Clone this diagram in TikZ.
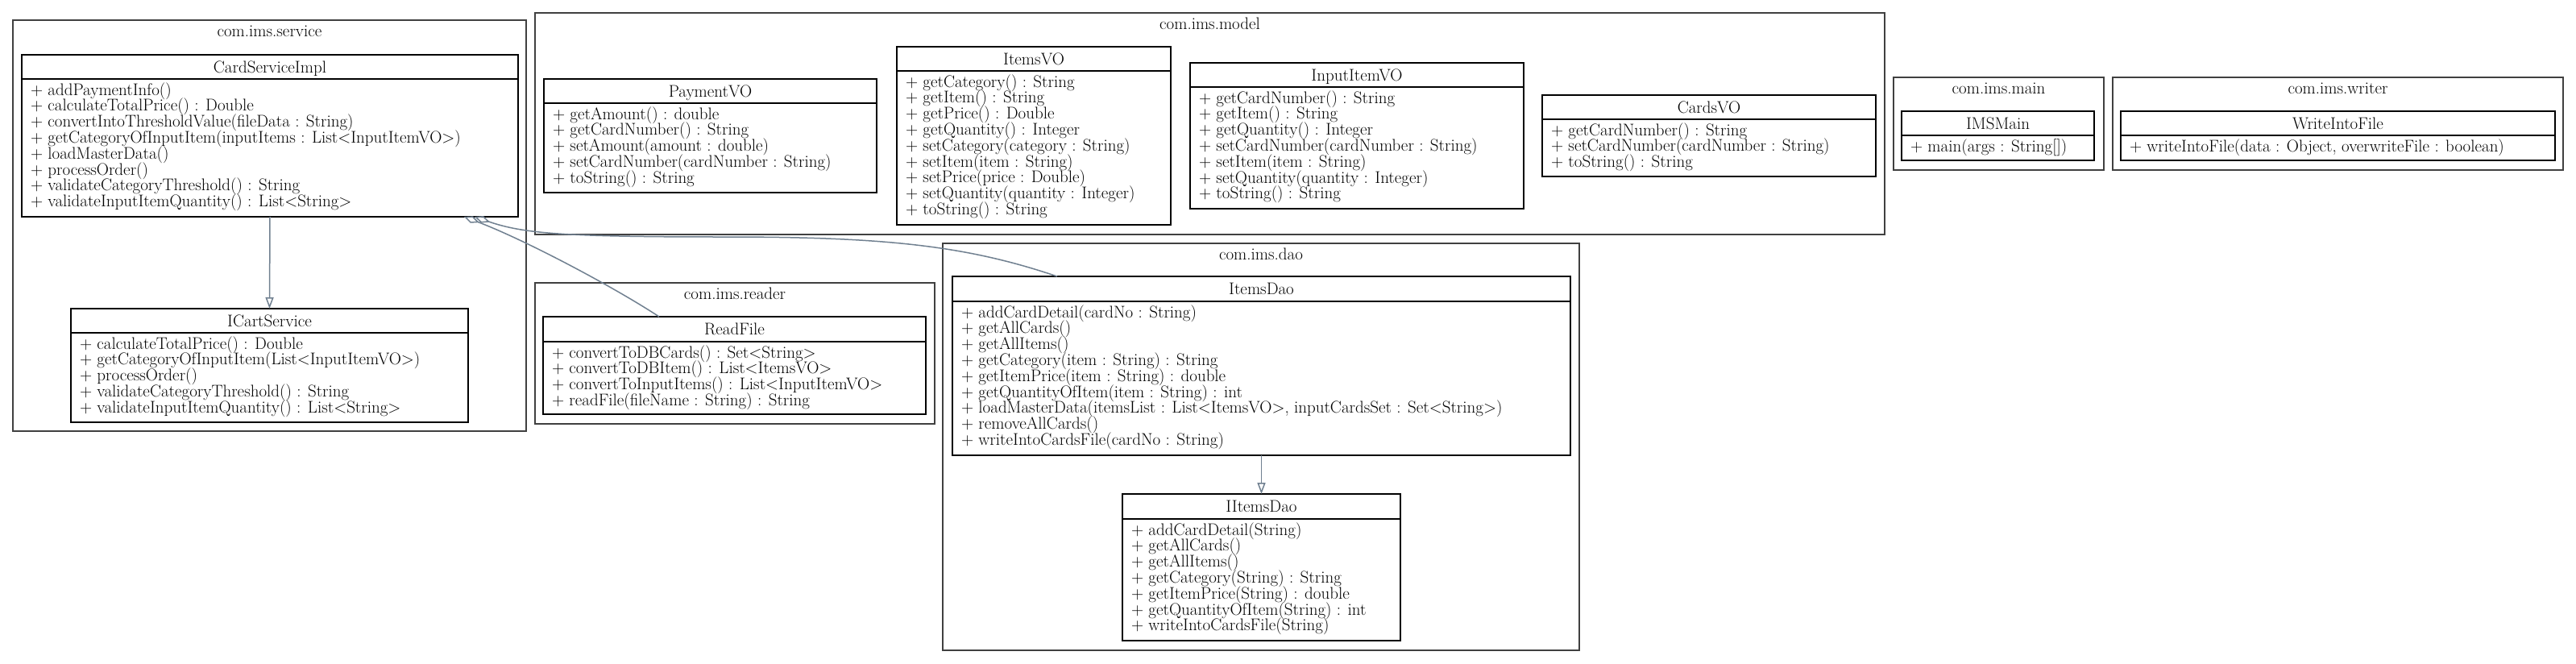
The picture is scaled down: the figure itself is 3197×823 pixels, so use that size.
\documentclass[tikz,border=0pt]{standalone}
\usetikzlibrary{arrows.meta}
\definecolor{edgec}{HTML}{708090}
\definecolor{pkgc}{HTML}{404040}
\newcommand\umlfont{\fontsize{21}{19.8}\selectfont}
\tikzset{
 pkgbox/.style={draw=pkgc, line width=2.3pt, inner sep=0pt, outer sep=0pt},
 classbox/.style={draw=black, line width=1.7pt, inner sep=0pt, outer sep=0pt, fill=white},
 sepline/.style={draw=black, line width=1.7pt},
 txt/.style={inner sep=0pt, outer sep=0pt, font=\umlfont},
 gen/.style={draw=edgec, line width=1.5pt, -{Triangle[open, length=14pt, width=10pt]}},
 aggr/.style={draw=edgec, line width=1.5pt, {Diamond[open, length=20pt, width=9pt]}-},
}
\newcommand\ml[1]{\hbox{#1}}
\newcommand\umlclass[8]{%
 \node[classbox, minimum width={(#4-#2)*1pt}, minimum height={(#5-#3)*1pt}] (#1) at ({(#2+#4)/2},{(#3+#5)/2}) {};
 \draw[sepline] (#2,#6) -- (#4,#6);
 \node[txt, anchor=base] (#1-title) at ({(#2+#4)/2},{(#3+#6)/2+7}) {#7};
 \node[txt, anchor=base west] (#1-body) at ({#2+11},{#6+20}) {\vtop{\baselineskip=19.8pt\lineskiplimit=-20pt\lineskip=0pt #8}};
}
\newcommand\umlpkg[6]{%
 \node[pkgbox, minimum width={(#4-#2)*1pt}, minimum height={(#5-#3)*1pt}] (#1) at ({(#2+#4)/2},{(#3+#5)/2}) {};
 \node[txt, anchor=base] (#1-title) at ({(#2+#4)/2},{#3+20}) {#6};
}
\begin{document}
\begin{tikzpicture}[x=1pt,y=-1pt]
\useasboundingbox[fill=white] (0,0) rectangle (3197,823);
% packages
\umlpkg{pservice}{16}{25}{653}{535}{com.ims.service}
\umlpkg{pmodel}{664}{16}{2339}{291}{com.ims.model}
\umlpkg{pmain}{2350}{96}{2611}{211}{com.ims.main}
\umlpkg{pwriter}{2622}{96}{3181}{211}{com.ims.writer}
\umlpkg{preader}{664}{351}{1160}{526}{com.ims.reader}
\umlpkg{pdao}{1170}{302}{1960}{807}{com.ims.dao}
% classes
\umlclass{csi}{27}{68}{643}{269}{98}{CardServiceImpl}{\ml{+ addPaymentInfo()}\ml{+ calculateTotalPrice() : Double}\ml{+ convertIntoThresholdValue(fileData : String)}\ml{+ getCategoryOfInputItem(inputItems : List<InputItemVO>)}\ml{+ loadMasterData()}\ml{+ processOrder()}\ml{+ validateCategoryThreshold() : String}\ml{+ validateInputItemQuantity() : List<String>}}
\umlclass{ics}{88}{383}{581}{524}{413}{ICartService}{\ml{+ calculateTotalPrice() : Double}\ml{+ getCategoryOfInputItem(List<InputItemVO>)}\ml{+ processOrder()}\ml{+ validateCategoryThreshold() : String}\ml{+ validateInputItemQuantity() : List<String>}}
\umlclass{pvo}{675}{98}{1088}{239}{128}{PaymentVO}{\ml{+ getAmount() : double}\ml{+ getCardNumber() : String}\ml{+ setAmount(amount : double)}\ml{+ setCardNumber(cardNumber : String)}\ml{+ toString() : String}}
\umlclass{ivo}{1113}{58}{1453}{279}{88}{ItemsVO}{\ml{+ getCategory() : String}\ml{+ getItem() : String}\ml{+ getPrice() : Double}\ml{+ getQuantity() : Integer}\ml{+ setCategory(category : String)}\ml{+ setItem(item : String)}\ml{+ setPrice(price : Double)}\ml{+ setQuantity(quantity : Integer)}\ml{+ toString() : String}}
\umlclass{iivo}{1477}{78}{1891}{259}{108}{InputItemVO}{\ml{+ getCardNumber() : String}\ml{+ getItem() : String}\ml{+ getQuantity() : Integer}\ml{+ setCardNumber(cardNumber : String)}\ml{+ setItem(item : String)}\ml{+ setQuantity(quantity : Integer)}\ml{+ toString() : String}}
\umlclass{cvo}{1914}{118}{2328}{219}{148}{CardsVO}{\ml{+ getCardNumber() : String}\ml{+ setCardNumber(cardNumber : String)}\ml{+ toString() : String}}
\umlclass{imsmain}{2360}{138}{2599}{199}{168}{IMSMain}{\ml{+ main(args : String[])}}
\umlclass{wif}{2632}{138}{3171}{199}{168}{WriteIntoFile}{\ml{+ writeIntoFile(data : Object, overwriteFile : boolean)}}
\umlclass{rf}{674}{393}{1149}{514}{424}{ReadFile}{\ml{+ convertToDBCards() : Set<String>}\ml{+ convertToDBItem() : List<ItemsVO>}\ml{+ convertToInputItems() : List<InputItemVO>}\ml{+ readFile(fileName : String) : String}}
\umlclass{idao}{1182}{343}{1949}{565}{374}{ItemsDao}{\ml{+ addCardDetail(cardNo : String)}\ml{+ getAllCards()}\ml{+ getAllItems()}\ml{+ getCategory(item : String) : String}\ml{+ getItemPrice(item : String) : double}\ml{+ getQuantityOfItem(item : String) : int}\ml{+ loadMasterData(itemsList : List<ItemsVO>, inputCardsSet : Set<String>)}\ml{+ removeAllCards()}\ml{+ writeIntoCardsFile(cardNo : String)}}
\umlclass{iidao}{1393}{613}{1738}{795}{644}{IItemsDao}{\ml{+ addCardDetail(String)}\ml{+ getAllCards()}\ml{+ getAllItems()}\ml{+ getCategory(String) : String}\ml{+ getItemPrice(String) : double}\ml{+ getQuantityOfItem(String) : int}\ml{+ writeIntoCardsFile(String)}}
% edges
\draw[gen] (csi.south) -- (ics.north);
\draw[gen] (idao.south) -- (iidao.north);
\draw[aggr] ([xshift=549pt]csi.south west) .. controls (650,297) and (760,355) .. ([xshift=144pt]rf.north west);
\draw[aggr] ([xshift=562pt]csi.south west) .. controls (650,290) and (700,294) .. (900,294) .. controls (1100,294) and (1200,305) .. ([xshift=130pt]idao.north west);
\end{tikzpicture}
\end{document}
